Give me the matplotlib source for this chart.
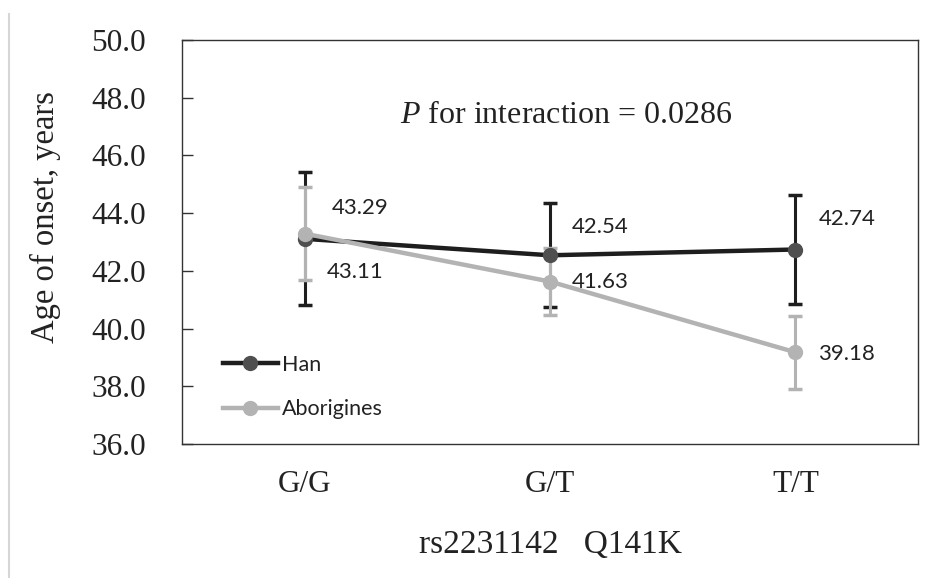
import matplotlib
matplotlib.use("Agg")
import matplotlib.pyplot as plt
from matplotlib.lines import Line2D

plt.rcParams["mathtext.fontset"] = "custom"
plt.rcParams["mathtext.rm"] = "Liberation Serif"
plt.rcParams["mathtext.it"] = "Liberation Serif:italic"

genotypes = ["G/G", "G/T", "T/T"]
han = [43.11, 42.54, 42.74]
han_err = [2.3, 1.8, 1.9]
abor = [43.29, 41.63, 39.18]
abor_err = [1.6, 1.16, 1.27]
yticks = [36.0, 38.0, 40.0, 42.0, 44.0, 46.0, 48.0, 50.0]

han_line = "#1e1e1e"
han_marker = "#4f4f4f"
abor_col = "#b3b3b3"

fig = plt.figure(figsize=(9.41, 5.78), dpi=100)
ax = fig.add_axes([0.1934, 0.2318, 0.7822, 0.699])

x = list(range(len(genotypes)))

# error bars first, then the lines on top
ax.errorbar(x, han, yerr=han_err, fmt="none", ecolor=han_line, elinewidth=2.2,
            capsize=5, capthick=2.5, zorder=2)
ax.errorbar(x, abor, yerr=abor_err, fmt="none", ecolor=abor_col, elinewidth=2.2,
            capsize=5, capthick=2.5, zorder=2)
ax.plot(x, han, color=han_line, lw=3.2, marker="o", ms=10,
        mfc=han_marker, mec=han_marker, label="Han", zorder=3)
ax.plot(x, abor, color=abor_col, lw=3.2, marker="o", ms=10,
        mfc=abor_col, mec=abor_col, label="Aborigines", zorder=4)

# value labels
lab_font = dict(family="Lato", fontsize=16, color="#222222")
offsets_han = [(0.09, -1.15), (0.09, 0.98), (0.094, 1.06)]
offsets_abor = [(0.11, 0.89), (0.09, 0.0), (0.094, -0.07)]
for i in x:
    ax.text(i + offsets_han[i][0], han[i] + offsets_han[i][1], f"{han[i]:.2f}",
            va="center", ha="left", **lab_font)
    ax.text(i + offsets_abor[i][0], abor[i] + offsets_abor[i][1], f"{abor[i]:.2f}",
            va="center", ha="left", **lab_font)

ax.text(0.522, 0.812, "$\\it{P}$ for interaction = 0.0286", transform=ax.transAxes,
        ha="center", va="center", family="Liberation Serif", fontsize=23,
        color="#222222")

ax.set_xlim(-0.5, 2.5)
ax.set_ylim(36, 50)
ax.set_yticks(yticks)
ax.set_yticklabels([f"{v:.1f}" for v in yticks])
ax.set_xticks(x)
ax.set_xticklabels(genotypes)
ax.tick_params(axis="y", direction="in", length=8, width=1, color="#333333",
               pad=26, labelsize=22.5)
ax.tick_params(axis="x", length=0, pad=19, labelsize=22.5)
for lab in ax.get_xticklabels() + ax.get_yticklabels():
    lab.set_family("Liberation Serif")
    lab.set_color("#222222")
for sp in ax.spines.values():
    sp.set_color("#333333")
    sp.set_linewidth(1)

ax.set_ylabel("Age of onset, years", family="Liberation Serif", fontsize=23.5,
              color="#222222", va="center")
ax.yaxis.set_label_coords(-0.186, 0.562)
ax.set_xlabel("rs2231142   Q141K", family="Liberation Serif", fontsize=24,
              color="#222222", labelpad=22)

leg = ax.legend(loc="upper left", bbox_to_anchor=(0.0557, 0.221), frameon=False,
                prop={"family": "Lato", "size": 15.5}, handlelength=2.55,
                handletextpad=0.2, labelspacing=1.15, borderpad=0,
                borderaxespad=0)
for t in leg.get_texts():
    t.set_color("#222222")

# faint border line on the left of the image
fig.add_artist(Line2D([0.0096, 0.0096], [0.0, 0.975], transform=fig.transFigure,
                      color="#d6d6d6", lw=1.5))

fig.savefig("out.png", dpi=100)
